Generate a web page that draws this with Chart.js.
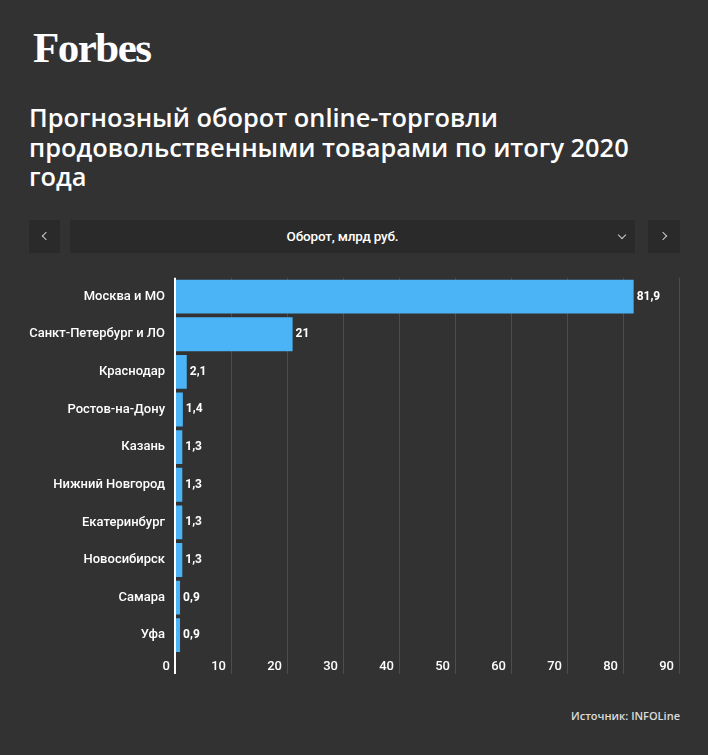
<!DOCTYPE html>
<html>
<head>
<meta charset="utf-8">
<script src="https://cdn.jsdelivr.net/npm/chart.js@4"></script>
<style>
  html, body { margin: 0; padding: 0; background: #323232; width: 708px; height: 755px; overflow: hidden; }
  #logo { position: absolute; left: 33px; top: 23px; font-family: "Liberation Serif", serif; font-weight: bold; font-size: 43px; letter-spacing: -1.5px; color: #fff; }
  #title { position: absolute; left: 29px; top: 103px; font-family: "Open Sans", sans-serif; font-weight: 600; font-size: 25.4px; line-height: 29.5px; color: #fff; }
  .box { position: absolute; top: 220px; height: 33px; background: #2a2a2a; }
  #bl { left: 29px; width: 31px; }
  #bm { left: 70px; width: 565px; }
  #br { left: 648px; width: 32px; }
  #dtext { position: absolute; top: 0; left: 0; right: 20px; line-height: 33px; text-align: center; color: #fff; font-family: Roboto, sans-serif; font-size: 13.5px; font-weight: 500; letter-spacing: -0.2px; }
  .chev { position: absolute; width: 5px; height: 5px; border-right: 1.6px solid #ccc; border-bottom: 1.6px solid #ccc; }
  #source { position: absolute; right: 28px; top: 708px; font-family: "Open Sans", sans-serif; font-size: 11px; font-weight: 600; color: #ddd; }
  #wrap { position: absolute; left: 0; top: 260px; width: 708px; height: 430px; }
</style>
</head>
<body>
<div id="logo">Forbes</div>
<div id="title">Прогнозный оборот online-торговли<br>продовольственными товарами по итогу 2020<br>года</div>
<div class="box" id="bl"><div class="chev" style="left:14px;top:13px;transform:rotate(135deg)"></div></div>
<div class="box" id="bm"><span id="dtext">Оборот, млрд руб.</span><div class="chev" style="left:549px;top:12px;transform:rotate(45deg)"></div></div>
<div class="box" id="br"><div class="chev" style="left:12px;top:13px;transform:rotate(-45deg)"></div></div>
<div id="wrap"><canvas id="c"></canvas></div>
<div id="source">Источник: INFOLine</div>
<script>
const categories = ["Москва и МО", "Санкт-Петербург и ЛО", "Краснодар", "Ростов-на-Дону", "Казань", "Нижний Новгород", "Екатеринбург", "Новосибирск", "Самара", "Уфа"];
const turnover = [81.9, 21, 2.1, 1.4, 1.3, 1.3, 1.3, 1.3, 0.9, 0.9];
const xTicks = [0, 10, 20, 30, 40, 50, 60, 70, 80, 90];

const fmt = v => String(v).replace('.', ',');

const valueLabels = {
  id: 'valueLabels',
  afterDatasetsDraw(chart) {
    const ctx = chart.ctx;
    const meta = chart.getDatasetMeta(0);
    ctx.save();
    ctx.font = 'bold 12px Roboto, sans-serif';
    ctx.fillStyle = '#fff';
    ctx.textAlign = 'left';
    ctx.textBaseline = 'middle';
    meta.data.forEach((bar, i) => {
      ctx.fillText(fmt(chart.data.datasets[0].data[i]), bar.x + 3, bar.y);
    });
    ctx.restore();
  }
};

new Chart(document.getElementById('c'), {
  type: 'bar',
  data: {
    labels: categories,
    datasets: [{
      data: turnover,
      backgroundColor: '#4ab4f6',
      categoryPercentage: 1,
      barPercentage: 0.9
    }]
  },
  options: {
    indexAxis: 'y',
    responsive: true,
    maintainAspectRatio: false,
    animation: false,
    layout: { padding: { top: 16, right: 29, bottom: 0, left: 0 } },
    plugins: { legend: { display: false }, tooltip: { enabled: false } },
    scales: {
      x: {
        min: xTicks[0],
        max: xTicks[xTicks.length - 1],
        afterBuildTicks(scale) { scale.ticks = xTicks.map(v => ({ value: v })); },
        afterFit(scale) { scale.height = 36; },
        border: { display: false },
        grid: {
          color: ctx => (ctx.tick && ctx.tick.value === 0) ? '#ffffff' : '#4d4d4d',
          lineWidth: ctx => (ctx.tick && ctx.tick.value === 0) ? 2 : 1,
          drawTicks: true,
          tickLength: 20
        },
        ticks: {
          color: '#fff',
          font: { family: 'Roboto', size: 13, weight: '500' },
          align: 'end',
          labelOffset: -5,
          padding: -15,
          maxRotation: 0
        }
      },
      y: {
        afterFit(scale) { scale.width = 175; },
        border: { display: false },
        grid: { display: false, drawTicks: false },
        ticks: {
          color: '#fff',
          font: { family: 'Roboto', size: 13, weight: '500' },
          padding: 10
        }
      }
    }
  },
  plugins: [valueLabels]
});
</script>
</body>
</html>
